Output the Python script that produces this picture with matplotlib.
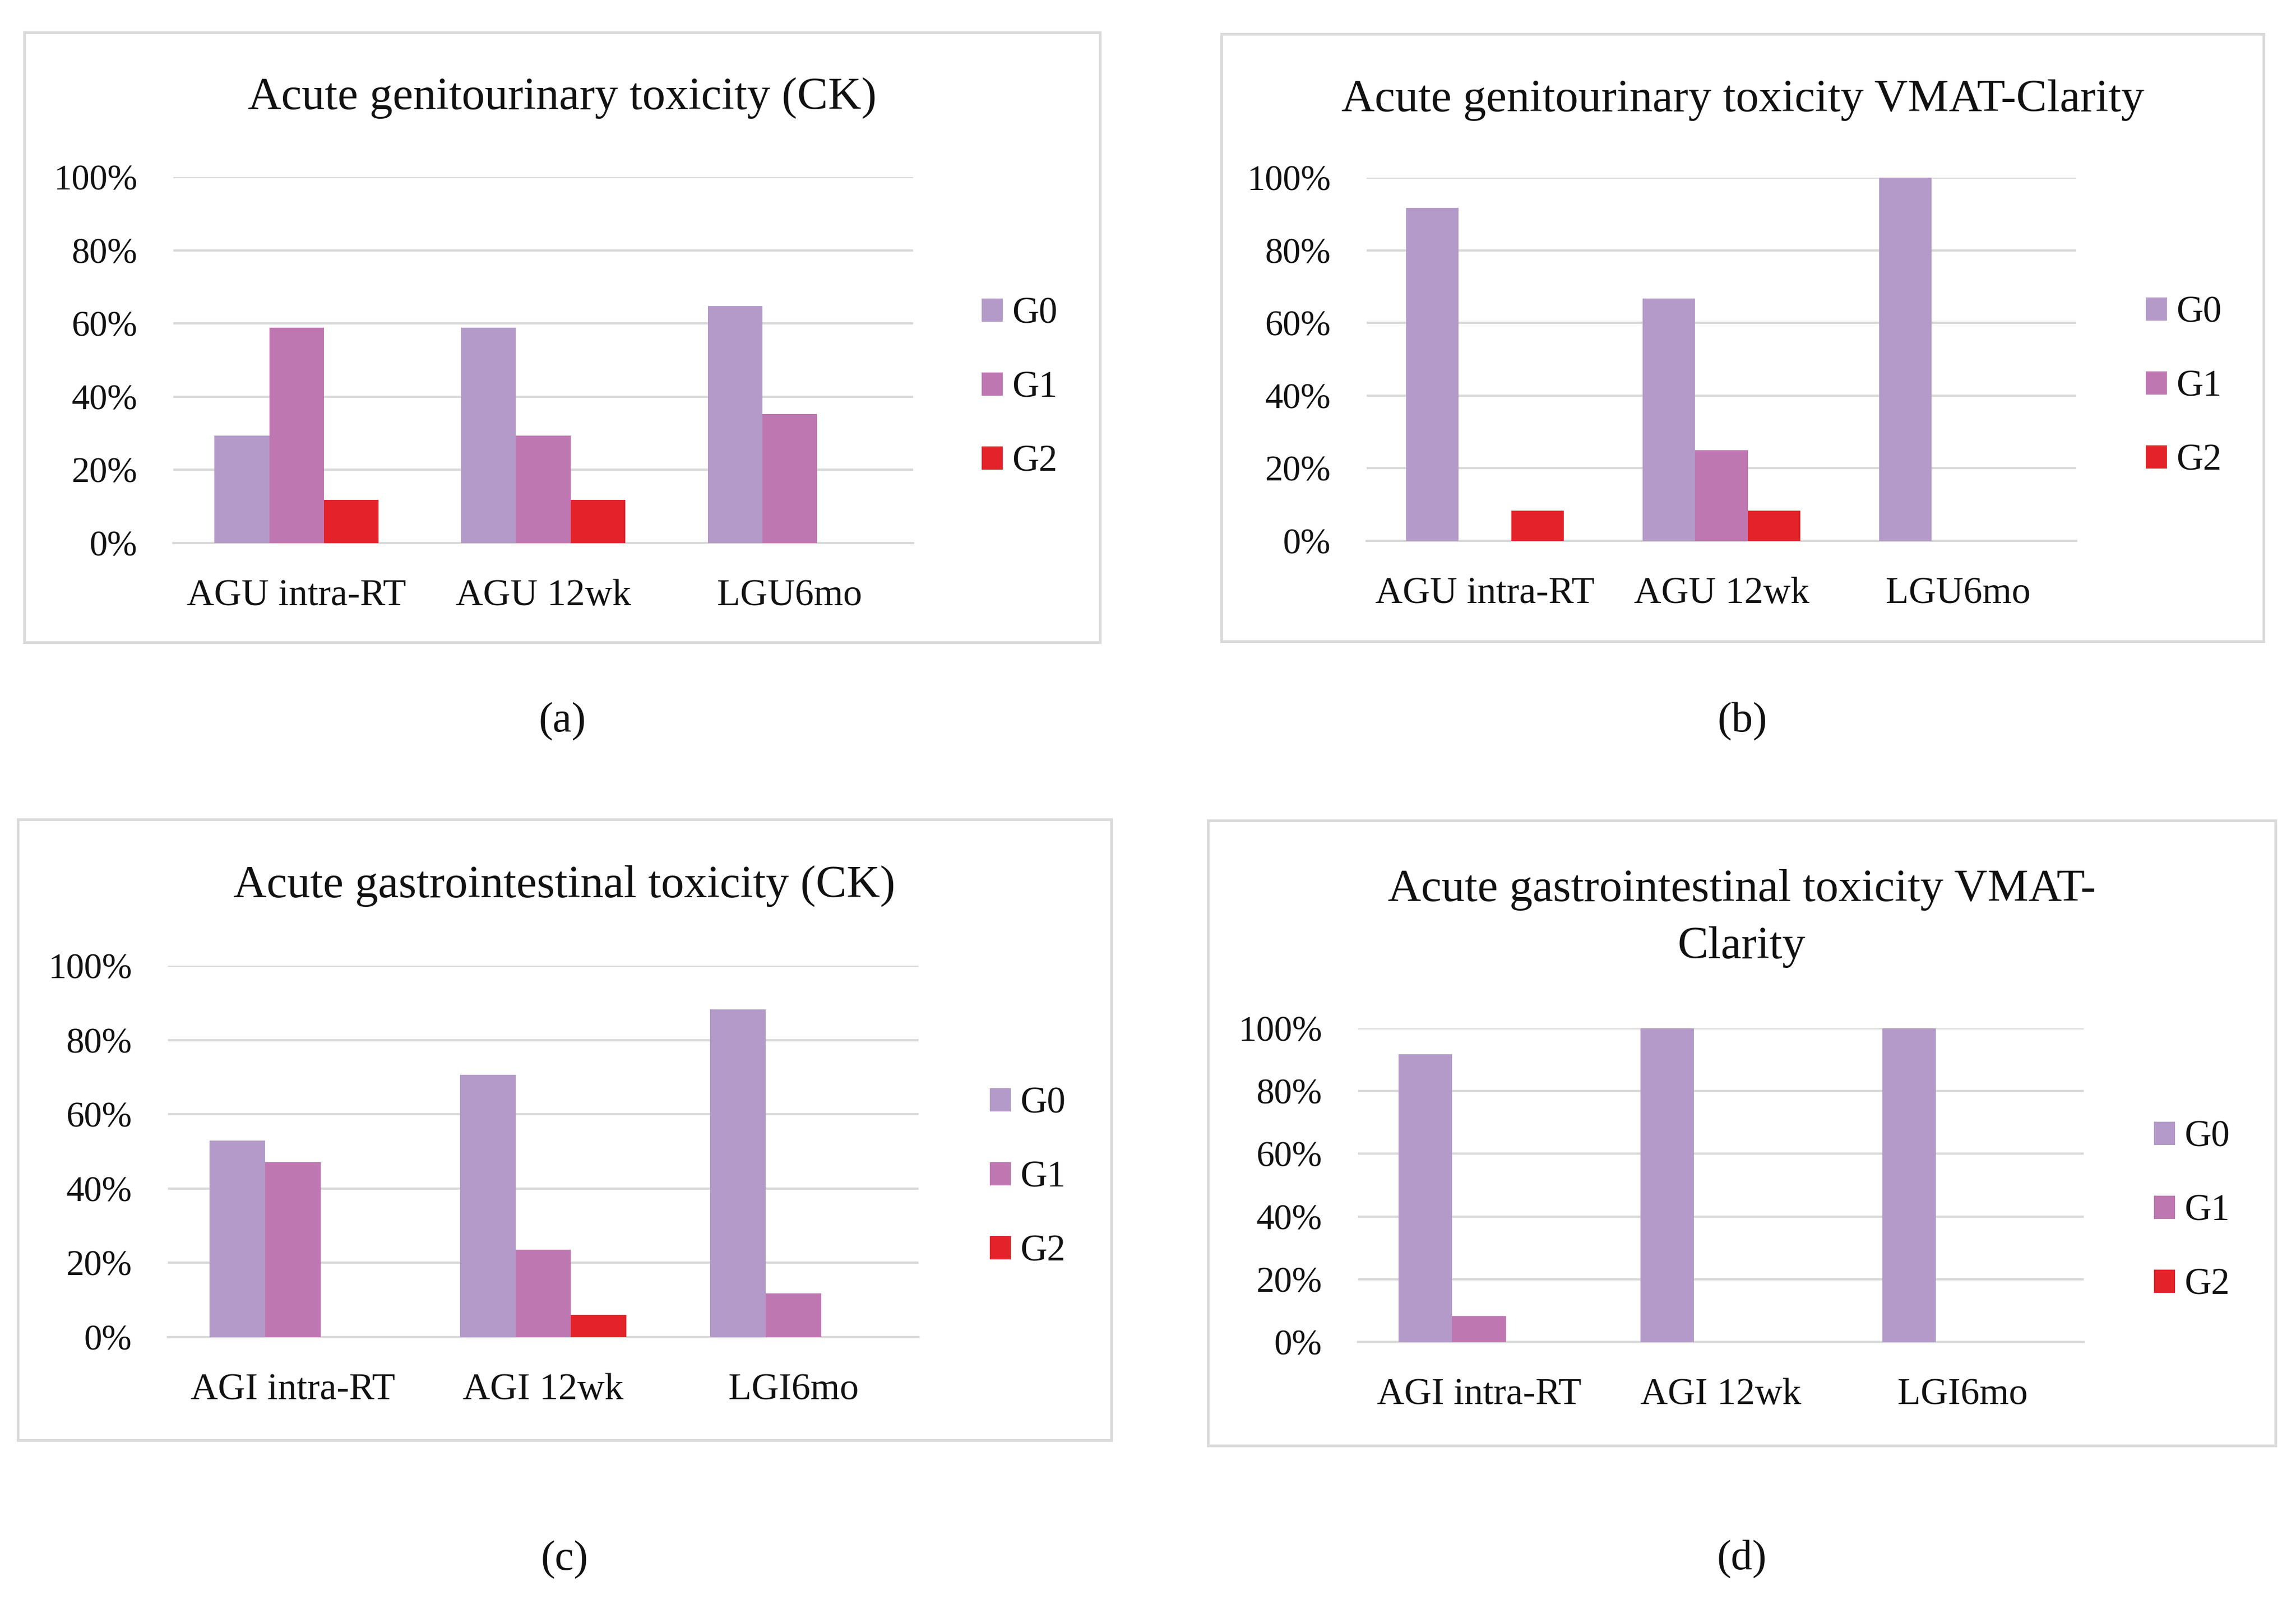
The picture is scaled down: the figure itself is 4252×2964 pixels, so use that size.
import matplotlib
matplotlib.use('Agg')
import matplotlib.pyplot as plt
from matplotlib.patches import Patch, Rectangle
from matplotlib.ticker import FuncFormatter
import numpy as np

plt.rcParams['font.family'] = ['Liberation Serif', 'DejaVu Serif']

# ── data (percent of patients) ──
grades = ['G0', 'G1', 'G2']

gu_cats = ['AGU intra-RT', 'AGU 12wk', 'LGU6mo']
gi_cats = ['AGI intra-RT', 'AGI 12wk', 'LGI6mo']

gu_ck_g0 = [29.4, 58.8, 64.7]
gu_ck_g1 = [58.8, 29.4, 35.3]
gu_ck_g2 = [11.8, 11.8, 0.0]

gu_vmat_g0 = [91.7, 66.7, 100.0]
gu_vmat_g1 = [0.0, 25.0, 0.0]
gu_vmat_g2 = [8.3, 8.3, 0.0]

gi_ck_g0 = [52.9, 70.6, 88.2]
gi_ck_g1 = [47.1, 23.5, 11.8]
gi_ck_g2 = [0.0, 5.9, 0.0]

gi_vmat_g0 = [91.7, 100.0, 100.0]
gi_vmat_g1 = [8.3, 0.0, 0.0]
gi_vmat_g2 = [0.0, 0.0, 0.0]

yticks = [0, 20, 40, 60, 80, 100]

# ── style ──
C_G0 = '#B39AC9'
C_G1 = '#BF77B2'
C_G2 = '#E32229'
GRID = '#D9D9D9'
BOX  = '#DADADA'
TXT  = '#111111'
W, H = 4252, 2964

def fx(px): return px / W
def fy(py): return 1 - py / H

fig = plt.figure(figsize=(W / 300, H / 300), dpi=300, facecolor='white')

panels = [
    # box / plot given as (left, top, right, bottom) in output pixels
    dict(box=(45, 60, 2037, 1190), plot=(321, 328, 1691, 1006),
         title='Acute genitourinary toxicity (CK)', ty=[182],
         cats=gu_cats, vals=(gu_ck_g0, gu_ck_g1, gu_ck_g2),
         leg=(1818, 719), tag='(a)', tag_y=1337),
    dict(box=(2262, 63, 4192, 1188), plot=(2531, 329, 3845, 1002),
         title='Acute genitourinary toxicity VMAT-Clarity', ty=[186],
         cats=gu_cats, vals=(gu_vmat_g0, gu_vmat_g1, gu_vmat_g2),
         leg=(3974, 717), tag='(b)', tag_y=1337),
    dict(box=(33, 1518, 2058, 2668), plot=(311, 1789, 1701, 2477),
         title='Acute gastrointestinal toxicity (CK)', ty=[1641],
         cats=gi_cats, vals=(gi_ck_g0, gi_ck_g1, gi_ck_g2),
         leg=(1833, 2182), tag='(c)', tag_y=2890),
    dict(box=(2237, 1520, 4214, 2678), plot=(2515, 1905, 3859, 2486),
         title='Acute gastrointestinal toxicity VMAT-\nClarity', ty=[1648, 1754],
         cats=gi_cats, vals=(gi_vmat_g0, gi_vmat_g1, gi_vmat_g2),
         leg=(3989, 2244), tag='(d)', tag_y=2889),
]

bw = 0.222
for p in panels:
    l, t, r, b = p['box']
    fig.patches.append(Rectangle((fx(l), fy(b)), fx(r - l), (b - t) / H,
                                 transform=fig.transFigure, facecolor='white',
                                 edgecolor=BOX, linewidth=1.2, zorder=-1))
    pl, pt, pr, pb = p['plot']
    ax = fig.add_axes([fx(pl), fy(pb), fx(pr - pl), (pb - pt) / H])
    ax.set_facecolor('none')
    x = np.arange(len(p['cats']))
    for k, (vals, c) in enumerate(zip(p['vals'], (C_G0, C_G1, C_G2))):
        ax.bar(x + (k - 1) * bw, vals, bw, color=c, zorder=3, linewidth=0)
    ax.set_xlim(-0.5, len(p['cats']) - 0.5)
    ax.set_ylim(0, 100)
    ax.set_yticks(yticks)
    ax.yaxis.set_major_formatter(FuncFormatter(lambda v, _: f'{v:.0f}%'))
    ax.set_xticks(x)
    ax.set_xticklabels(p['cats'])
    ax.grid(axis='y', color=GRID, linewidth=1.0, zorder=0)
    ax.set_axisbelow(True)
    ax.axhline(0, color=GRID, linewidth=1.0, zorder=1, clip_on=False)
    for s in ax.spines.values():
        s.set_visible(False)
    ax.tick_params(axis='y', length=0, pad=16, labelsize=16, labelcolor=TXT)
    ax.tick_params(axis='x', length=0, pad=16, labelsize=16.8, labelcolor=TXT)

    # title centred on chart box
    cx = fx((l + r) / 2)
    for line, yy in zip(p['title'].split('\n'), p['ty']):
        fig.text(cx, fy(yy), line, ha='center', va='center', fontsize=20.5, color=TXT)

    handles = [Patch(facecolor=c, edgecolor='none', label=g)
               for g, c in zip(grades, (C_G0, C_G1, C_G2))]
    lx, ly = p['leg']
    ax.legend(handles=handles, loc='center left', bbox_to_anchor=(fx(lx), fy(ly)),
              bbox_transform=fig.transFigure, frameon=False, fontsize=16.5,
              handlelength=0.57, handleheight=0.57, handletextpad=0.25,
              labelspacing=1.07, borderpad=0, borderaxespad=0, labelcolor=TXT)

    fig.text(cx, fy(p['tag_y']), p['tag'], ha='center', va='center', fontsize=19, color=TXT)

fig.savefig('out.png', dpi=300, facecolor='white')
